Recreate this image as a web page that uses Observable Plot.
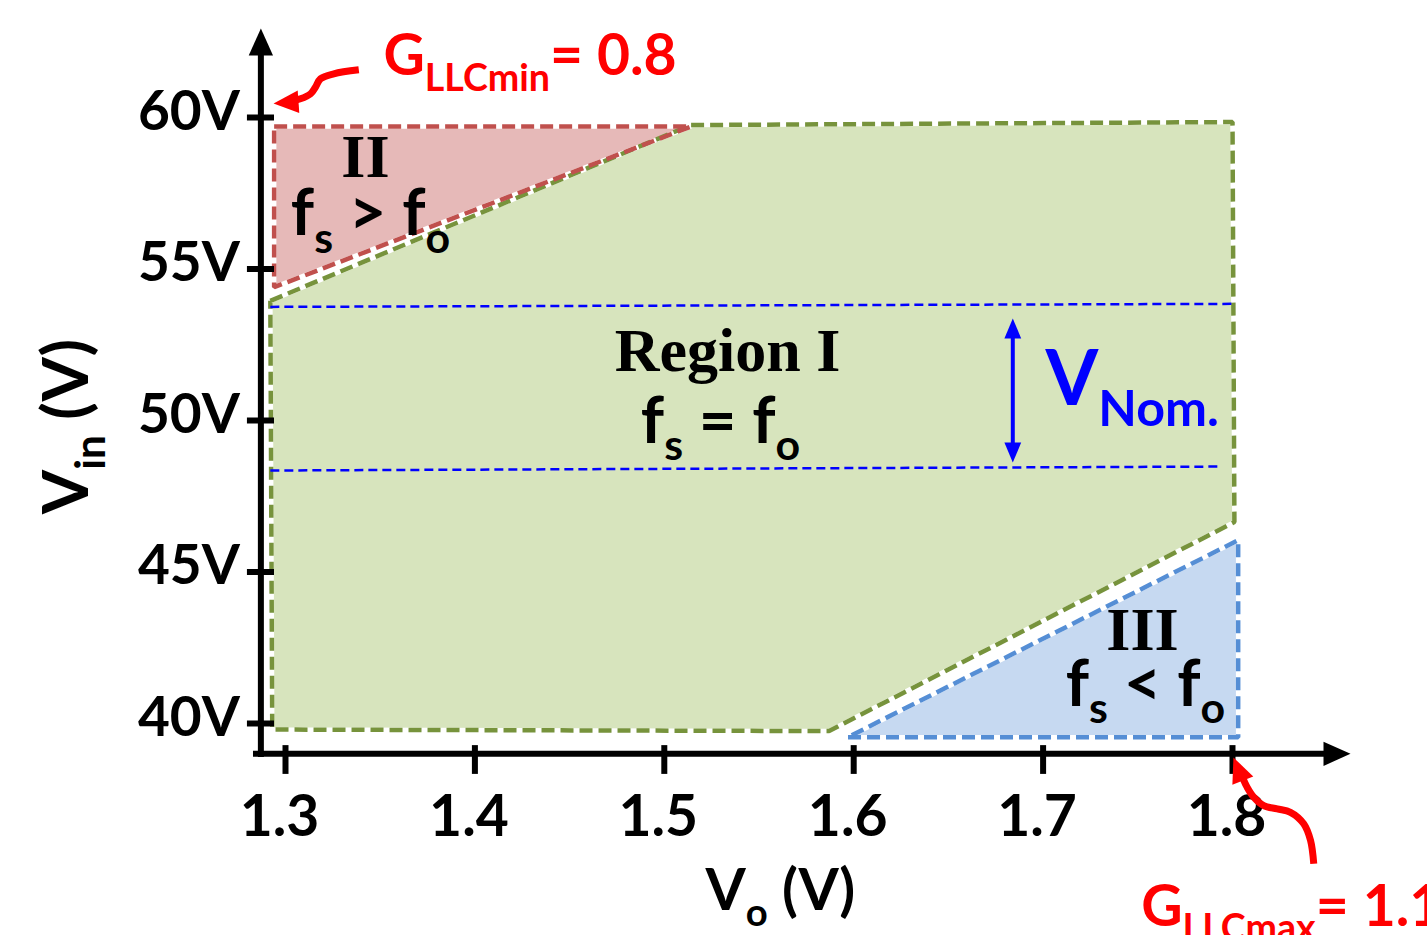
<!DOCTYPE html>
<html>
<head>
<meta charset="utf-8">
<script src="https://cdn.jsdelivr.net/npm/d3@7"></script>
<script src="https://cdn.jsdelivr.net/npm/@observablehq/plot@0.6"></script>
<style>
  html, body { margin: 0; padding: 0; background: #fff; overflow: hidden; }
  #chart svg { display: block; overflow: hidden; }
</style>
</head>
<body>
<div id="chart"></div>
<script>
// Operating regions of the LLC stage: input voltage Vin (V) against output voltage Vo (V)

// Axis ticks and their labels
const xTicks = [1.3, 1.4, 1.5, 1.6, 1.7, 1.8];
const xTickLabels = ["1.3", "1.4", "1.5", "1.6", "1.7", "1.8"];
const yTicks = [40, 45, 50, 55, 60];
const yTickLabels = ["40V", "45V", "50V", "55V", "60V"];

// Region I (fs = fo) outline
const regionIVo  = [1.292, 1.514, 1.800, 1.801, 1.587, 1.293, 1.292];
const regionIVin = [53.95, 59.75, 59.85, 46.65, 39.75, 39.80, 53.95];
// Region II (fs > fo) outline
const regionIIVo  = [1.294, 1.514, 1.294, 1.294];
const regionIIVin = [59.70, 59.70, 54.40, 59.70];
// Region III (fs < fo) outline
const regionIIIVo  = [1.597, 1.803, 1.803, 1.597];
const regionIIIVin = [39.55, 39.55, 46.05, 39.55];

// Nominal input-voltage band
const nominalHighVo  = [1.292, 1.800];
const nominalHighVin = [53.75, 53.85];
const nominalLowVo   = [1.292, 1.794];
const nominalLowVin  = [48.35, 48.48];
const nominalArrowVo = [1.684];
const nominalArrowTop = [53.37];
const nominalArrowBottom = [48.61];

// Region labels
const regionNames   = ["II", "Region I", "III"];
const regionNameVo  = [1.3422, 1.5334, 1.7525];
const regionNameVin = [58.02, 51.65, 42.41];
const regionRules   = ["f_{s} > f_{o}", "f_{s} = f_{o}", "f_{s} < f_{o}"];
const regionRuleVo  = [1.3449, 1.5297, 1.7540];
const regionRuleVin = [56.11, 49.27, 40.59];

// Gain limits and the callout arrows that point at them
const gainText = ["G_{LLCmin}= 0.8", "G_{LLCmax}= 1.1"];
const gainVo   = [1.3517, 1.7518];
const gainVin  = [61.39, 33.33];
const gainMinArrowVo  = [1.3387, 1.3255, 1.3185, 1.3158, 1.3132, 1.3079, 1.3042];
const gainMinArrowVin = [61.574, 61.442, 61.277, 61.00, 60.78, 60.617, 60.561];
const gainMinTip = {vo: 1.2937, vin: 60.46, angle: -94};
const gainMaxArrowVo  = [1.8429, 1.8412, 1.8376, 1.8306, 1.8236, 1.8165, 1.8112, 1.8077, 1.8058];
const gainMaxArrowVin = [35.37, 36.14, 36.69, 37.07, 37.18, 37.29, 37.57, 37.90, 38.15];
const gainMaxTip = {vo: 1.8005, vin: 38.88, angle: -22};

// Axis frame
const originVo = 1.287, originVin = 39.0;
const xAxisStartVo = 1.2831, xAxisEndVo = 1.8623;
const yAxisStartVin = 38.88, yAxisEndVin = 62.94;
const xTickSpan = [39.27, 38.32];
const yTickSpan = [1.2799, 1.2942];

// Text labels
const nominalLabel = ["V_{Nom.}"];
const nominalLabelVo = [1.7013], nominalLabelVin = [50.50];
const xTitle = "V_{o} (V)", xTitleVo = 1.5218, xTitleVin = 33.83;
const yTitle = "V_{in} (V)", yTitleVo = 1.1955, yTitleVin = 49.80;

const pts = (xs, ys) => xs.map((x, i) => ({x, y: ys[i]}));

// Filled arrowhead whose tip sits at the dot position; angle is clockwise from "up"
function arrowHead(angleDeg, halfWidth = 0.45) {
  const t = angleDeg * Math.PI / 180;
  const dx = Math.sin(t), dy = -Math.cos(t);
  const px = Math.cos(t), py = Math.sin(t);
  return {
    draw(context, size) {
      const l = Math.sqrt(size / Math.PI);
      const bx = -l * dx, by = -l * dy;
      context.moveTo(0, 0);
      context.lineTo(bx + halfWidth * l * px, by + halfWidth * l * py);
      context.lineTo(bx - halfWidth * l * px, by - halfWidth * l * py);
      context.closePath();
    }
  };
}

const regions = [
  {pts: pts(regionIVo, regionIVin), fill: "#d7e4bd", stroke: "#77933c"},
  {pts: pts(regionIIVo, regionIIVin), fill: "#e6b9b8", stroke: "#c0504d"},
  {pts: pts(regionIIIVo, regionIIIVin), fill: "#c6d9f1", stroke: "#558ed5"}
];

const sans = "Lato, 'Open Sans', sans-serif";
const serif = "'Liberation Serif', 'Times New Roman', serif";

const chart = Plot.plot({
  width: 1427,
  height: 935,
  margin: 0,
  x: {domain: [1.3, 1.8], range: [285, 1232], axis: null},
  y: {domain: [40, 60], range: [723, 117], axis: null},
  style: {background: "white"},
  marks: [
    // region fills with a white outline under the dashes
    ...regions.map(r => Plot.line(r.pts, {x: "x", y: "y", fill: r.fill, stroke: "white", strokeWidth: 4.5, strokeLinejoin: "miter"})),
    ...regions.map(r => Plot.line(r.pts, {x: "x", y: "y", stroke: r.stroke, strokeWidth: 4.5, strokeDasharray: "13,6", strokeLinecap: "butt", strokeLinejoin: "miter"})),

    // nominal band
    Plot.line(pts(nominalHighVo, nominalHighVin), {x: "x", y: "y", stroke: "#0000ff", strokeWidth: 2.5, strokeDasharray: "9,5", strokeLinecap: "butt"}),
    Plot.line(pts(nominalLowVo, nominalLowVin), {x: "x", y: "y", stroke: "#0000ff", strokeWidth: 2.5, strokeDasharray: "9,5", strokeLinecap: "butt"}),
    Plot.ruleX(nominalArrowVo, {x: d => d, y1: (d, i) => nominalArrowTop[i], y2: (d, i) => nominalArrowBottom[i], insetTop: 10, insetBottom: 10, stroke: "#0000ff", strokeWidth: 4}),
    Plot.dot(nominalArrowVo, {x: d => d, y: (d, i) => nominalArrowTop[i], r: 20, symbol: arrowHead(0, 0.42), fill: "#0000ff", stroke: null}),
    Plot.dot(nominalArrowVo, {x: d => d, y: (d, i) => nominalArrowBottom[i], r: 20, symbol: arrowHead(180, 0.42), fill: "#0000ff", stroke: null}),
    Plot.text(nominalLabel, {x: (d, i) => nominalLabelVo[i], y: (d, i) => nominalLabelVin[i], text: d => d, textAnchor: "start", lineAnchor: "bottom", fontFamily: sans, fontWeight: "bold", fontSize: 76, fill: "#0000ff"}),

    // region labels
    Plot.text(regionNames, {x: (d, i) => regionNameVo[i], y: (d, i) => regionNameVin[i], text: d => d, textAnchor: "middle", lineAnchor: "bottom", fontFamily: serif, fontWeight: "bold", fontSize: 62, fill: "black"}),
    Plot.text(regionRules, {x: (d, i) => regionRuleVo[i], y: (d, i) => regionRuleVin[i], text: d => d, textAnchor: "middle", lineAnchor: "bottom", fontFamily: sans, fontWeight: "bold", fontSize: 65, fill: "black"}),

    // axes
    Plot.ruleY([originVin], {y: d => d, x1: xAxisStartVo, x2: xAxisEndVo, insetRight: 12, stroke: "black", strokeWidth: 6}),
    Plot.ruleX([originVo], {x: d => d, y1: yAxisEndVin, y2: yAxisStartVin, insetTop: 12, stroke: "black", strokeWidth: 6}),
    Plot.dot([xAxisEndVo], {x: d => d, y: originVin, r: 27, symbol: arrowHead(90), fill: "black", stroke: null}),
    Plot.dot([yAxisEndVin], {x: originVo, y: d => d, r: 27, symbol: arrowHead(0), fill: "black", stroke: null}),
    Plot.ruleX(xTicks, {x: d => d, y1: xTickSpan[0], y2: xTickSpan[1], stroke: "black", strokeWidth: 6}),
    Plot.ruleY(yTicks, {y: d => d, x1: yTickSpan[0], x2: yTickSpan[1], stroke: "black", strokeWidth: 6}),
    Plot.text(xTicks, {x: d => d, y: originVin, text: (d, i) => xTickLabels[i], dx: -6, dy: 82, textAnchor: "middle", lineAnchor: "bottom", fontFamily: sans, fontWeight: "bold", fontSize: 57, fill: "black"}),
    Plot.text(yTicks, {x: originVo, y: d => d, text: (d, i) => yTickLabels[i], dx: -21, dy: 12, textAnchor: "end", lineAnchor: "bottom", fontFamily: sans, fontWeight: "bold", fontSize: 55, fill: "black"}),
    Plot.text([xTitle], {x: xTitleVo, y: xTitleVin, text: d => d, textAnchor: "start", lineAnchor: "bottom", fontFamily: sans, fontWeight: "bold", fontSize: 58, fill: "black"}),
    Plot.text([yTitle], {x: yTitleVo, y: yTitleVin, text: d => d, rotate: -90, textAnchor: "middle", lineAnchor: "bottom", fontFamily: sans, fontWeight: "bold", fontSize: 64, fill: "black"}),

    // gain callouts
    Plot.line(pts(gainMinArrowVo, gainMinArrowVin), {x: "x", y: "y", curve: "catmull-rom", stroke: "#ff0000", strokeWidth: 7, strokeLinecap: "butt"}),
    Plot.dot([gainMinTip], {x: "vo", y: "vin", r: 25, symbol: arrowHead(gainMinTip.angle), fill: "#ff0000", stroke: null}),
    Plot.line(pts(gainMaxArrowVo, gainMaxArrowVin), {x: "x", y: "y", curve: "catmull-rom", stroke: "#ff0000", strokeWidth: 7, strokeLinecap: "butt"}),
    Plot.dot([gainMaxTip], {x: "vo", y: "vin", r: 25, symbol: arrowHead(gainMaxTip.angle), fill: "#ff0000", stroke: null}),
    Plot.text(gainText, {x: (d, i) => gainVo[i], y: (d, i) => gainVin[i], text: d => d, textAnchor: "start", lineAnchor: "bottom", fontFamily: sans, fontWeight: "bold", fontSize: 57, fill: "#ff0000"})
  ]
});

document.getElementById("chart").appendChild(chart);

// Turn "_{...}" markup into subscript tspans
d3.select(chart).selectAll("text").each(function () {
  const raw = this.textContent;
  if (!raw.includes("_{")) return;
  const base = parseFloat(getComputedStyle(this).fontSize);
  const subSize = base * 0.66;
  const shift = base * 0.27;
  const parts = raw.split(/_\{([^}]*)\}/);
  const node = d3.select(this);
  node.text(null);
  let lowered = false;
  parts.forEach((p, i) => {
    if (!p) return;
    const span = node.append("tspan").text(p);
    if (i % 2 === 1) {
      span.attr("font-size", subSize).attr("dy", shift);
      lowered = true;
    } else if (lowered) {
      span.attr("dy", -shift);
      lowered = false;
    }
  });
});
</script>
</body>
</html>
